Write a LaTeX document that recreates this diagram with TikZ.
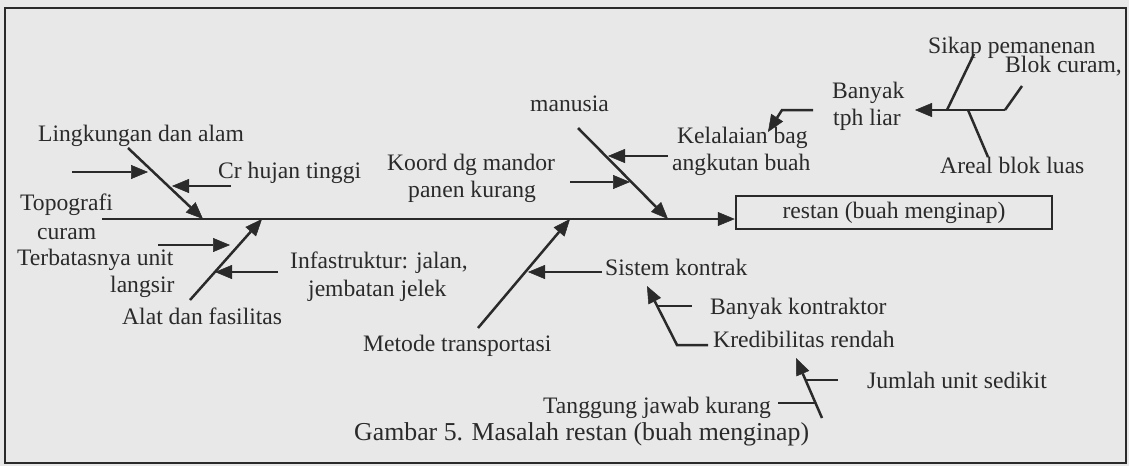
\documentclass[tikz,border=0pt]{standalone}
\usepackage{fontspec}
\setmainfont{Liberation Serif}
\usetikzlibrary{arrows.meta}
\definecolor{ink}{HTML}{2A2A2A}
\definecolor{paper}{HTML}{E8E8E8}
\tikzset{
  lbl/.style={inner sep=0pt,anchor=base west,text=ink,font=\fontsize{23.6}{26}\selectfont},
  bone/.style={draw=ink,line width=2.5pt},
  arr/.style={bone,-{Triangle[length=17pt,width=14pt,fill=ink,line width=0.5pt]}}
}
\begin{document}
\begin{tikzpicture}[x=1pt,y=1pt]
\begin{scope}[yscale=-1]
\useasboundingbox[fill=paper] (0,0) rectangle (1129,466);
\draw[ink,line width=2.6pt] (5,8) rectangle (1126,463);

% labels
\node[lbl] (lingk) at (38,141) {Lingkungan dan alam};
\node[lbl] (crhujan) at (218,178) {Cr hujan tinggi};
\node[lbl] (topo) at (20,210) {Topografi};
\node[lbl] (curam) at (37,239) {curam};
\node[lbl] (terbatas) at (17,265) {Terbatasnya unit};
\node[lbl] (langsir) at (110,292) {langsir};
\node[lbl] (infra) at (290,268) {Infastruktur: jalan,};
\node[lbl] (jembatan) at (308,296) {jembatan jelek};
\node[lbl] (alat) at (122,324) {Alat dan fasilitas};
\node[lbl] (metode) at (363,351) {Metode transportasi};
\node[lbl] (manusia) at (530,111) {manusia};
\node[lbl] (kelalaian) at (677,143) {Kelalaian bag};
\node[lbl] (angkutan) at (672,170) {angkutan buah};
\node[lbl] (koord) at (387,170) {Koord dg mandor};
\node[lbl] (panen) at (408,197) {panen kurang};
\node[lbl] (sistem) at (605,275) {Sistem kontrak};
\node[lbl] (banyakk) at (710,314) {Banyak kontraktor};
\node[lbl] (kredib) at (713,347) {Kredibilitas rendah};
\node[lbl] (jumlah) at (867,388) {Jumlah unit sedikit};
\node[lbl] (tanggung) at (543,413) {Tanggung jawab kurang};
\node[lbl,font=\fontsize{25.8}{28}\selectfont] (caption) at (354,440) {Gambar 5. Masalah restan (buah menginap)};
\node[lbl] (sikap) at (928,53) {Sikap pemanenan};
\node[lbl] (blok) at (1005,72) {Blok curam,};
\node[lbl] (banyak) at (832,98) {Banyak};
\node[lbl] (tph) at (833,125) {tph liar};
\node[lbl] (areal) at (940,173) {Areal blok luas};

\node[draw=ink,line width=2.5pt,minimum width=316pt,minimum height=33pt,inner sep=0pt,
  text=ink,font=\fontsize{23.6}{26}\selectfont] (restan) at (894,212.5) {restan (buah menginap)};

% spine
\coordinate (sp0) at (102,219);
\draw[arr] (sp0) -- (sp0 -| restan.west);

% bone 1: Lingkungan dan alam
\coordinate (b1a) at (128,148); \coordinate (b1b) at (203,219);
\draw[arr] (b1a) -- (b1b);
\coordinate (s1a) at (72,172); \coordinate (s1b) at (148,172);
\draw[arr] (s1a) -- (s1b);
\coordinate (s2a) at (231,186); \coordinate (s2b) at (172,186);
\draw[arr] (s2a) -- (s2b);

% bone 2: Alat dan fasilitas
\coordinate (b2a) at (190,300); \coordinate (b2b) at (262,219);
\draw[arr] (b2a) -- (b2b);
\coordinate (s3a) at (158,245); \coordinate (s3b) at (230,245);
\draw[arr] (s3a) -- (s3b);
\coordinate (s4a) at (278,272); \coordinate (s4b) at (215,272);
\draw[arr] (s4a) -- (s4b);

% bone 3: manusia
\coordinate (b3a) at (578,128); \coordinate (b3b) at (668,219);
\draw[arr] (b3a) -- (b3b);
\coordinate (s5a) at (668,156); \coordinate (s5b) at (608,156);
\draw[arr] (s5a) -- (s5b);
\coordinate (s6a) at (570,182); \coordinate (s6b) at (630,182);
\draw[arr] (s6a) -- (s6b);

% bone 4: Metode transportasi
\coordinate (b4a) at (478,328); \coordinate (b4b) at (570,219);
\draw[arr] (b4a) -- (b4b);
\coordinate (s7a) at (602,272); \coordinate (s7b) at (528,272);
\draw[arr] (s7a) -- (s7b);

% Sistem kontrak sub-branch
\coordinate (k1) at (708,345); \coordinate (k2) at (677,345); \coordinate (k3) at (647,286);
\draw[arr] (k1) -- (k2) -- (k3);
\coordinate (k4) at (692,306); \coordinate (k5) at (657,306);
\draw[bone] (k4) -- (k5);

% Kredibilitas rendah sub-branch
\coordinate (r1) at (822,418); \coordinate (r2) at (796,358);
\draw[arr] (r1) -- (r2);
\coordinate (r3) at (838,380); \coordinate (r4) at (805,380);
\draw[bone] (r3) -- (r4);
\coordinate (r5) at (778,403); \coordinate (r6) at (815,403);
\draw[bone] (r5) -- (r6);

% Banyak tph liar group
\coordinate (t1) at (1005,110); \coordinate (t2) at (915,110);
\draw[arr] (t1) -- (t2);
\coordinate (t3) at (1022,86);
\draw[bone] (t3) -- (t1);
\coordinate (t4) at (974,54); \coordinate (t5) at (947,110);
\draw[bone] (t4) -- (t5);
\coordinate (t6) at (968,110); \coordinate (t7) at (988,157);
\draw[bone] (t6) -- (t7);
\coordinate (t8) at (813,110); \coordinate (t9) at (782,110); \coordinate (t10) at (768,132);
\draw[arr] (t8) -- (t9) -- (t10);
\end{scope}
\end{tikzpicture}
\end{document}
